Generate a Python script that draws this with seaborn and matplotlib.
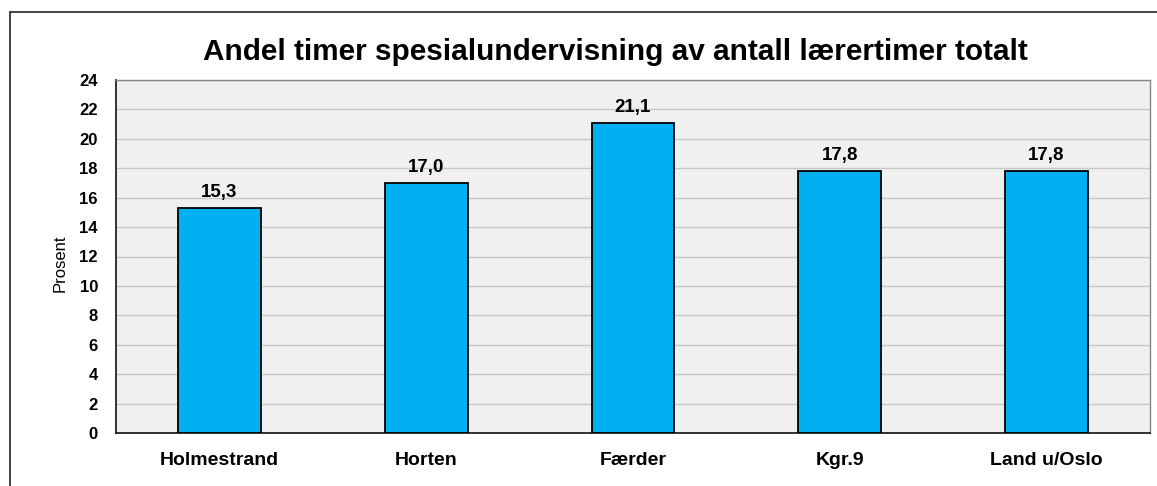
import matplotlib
matplotlib.use("Agg")
import matplotlib.pyplot as plt
from matplotlib.lines import Line2D
from matplotlib.ticker import FixedLocator
import seaborn as sns
import pandas as pd

# Kommuner og andel spesialundervisning (prosent)
kommuner = ["Holmestrand", "Horten", "Færder", "Kgr.9", "Land u/Oslo"]
andel = [15.3, 17.0, 21.1, 17.8, 17.8]
y_ticks = list(range(0, 25, 2))

df = pd.DataFrame({"kommune": kommuner, "andel": andel})

sns.set_theme(style="white")
plt.rcParams["font.family"] = ["Liberation Sans", "DejaVu Sans"]
plt.rcParams["text.color"] = "black"
plt.rcParams["axes.labelcolor"] = "black"
plt.rcParams["xtick.color"] = "black"
plt.rcParams["ytick.color"] = "black"

fig = plt.figure(figsize=(11.57, 4.86), dpi=100)
ax = fig.add_axes([116 / 1157, 1 - 433 / 486, (1150 - 116) / 1157, (433 - 80) / 486])
ax.set_facecolor("#f0f0f0")

sns.barplot(data=df, x="kommune", y="andel", order=kommuner, color="#00b0f0",
            saturation=1, width=0.4, edgecolor="black", linewidth=1.3, ax=ax, zorder=3)

ax.set_ylim(0, 24)
ax.set_xlim(-0.5, len(kommuner) - 0.5)
ax.set_yticks(y_ticks)
ax.yaxis.grid(True, color="#c8c8c8", linewidth=1.0, zorder=0)
ax.set_axisbelow(True)

# Category labels centered, tick marks between categories
ax.set_xticks(range(len(kommuner)))
ax.set_xticklabels(kommuner, fontsize=14, fontweight="bold", color="black")
ax.tick_params(axis="x", which="major", length=0, pad=14)
ax.xaxis.set_minor_locator(FixedLocator([i - 0.5 for i in range(len(kommuner) + 1)]))
ax.tick_params(axis="x", which="minor", length=6, width=1, color="black", direction="out")

ax.tick_params(axis="y", length=7, width=1, color="black", direction="out", pad=6,
               labelsize=12, labelcolor="black")
for lbl in ax.get_yticklabels():
    lbl.set_fontweight("bold")

ax.set_xlabel("")
ax.set_ylabel("Prosent", fontsize=12, color="black", fontweight="medium")
ax.yaxis.set_label_coords(-0.047, 0.48)

for side in ["left", "bottom"]:
    ax.spines[side].set_color("#222222")
    ax.spines[side].set_linewidth(1.3)
for side in ["top", "right"]:
    ax.spines[side].set_color("#888888")
    ax.spines[side].set_linewidth(1.0)

# Value labels above each bar
for i, v in enumerate(andel):
    ax.annotate(f"{v:.1f}".replace(".", ","), (i, v), xytext=(0, 5),
                textcoords="offset points", ha="center", va="bottom",
                fontsize=13.5, fontweight="bold", color="black", zorder=4)

fig.text(615 / 1157, 1 - 52 / 486, "Andel timer spesialundervisning av antall lærertimer totalt",
         ha="center", va="center", fontsize=21.4, fontweight="bold", color="black")

# Chart area frame
x0 = 10 / 1157
y0 = 1 - 12 / 486
fig.add_artist(Line2D([x0, x0], [0, y0], transform=fig.transFigure, color="#222222", linewidth=1.2))
fig.add_artist(Line2D([x0, 1], [y0, y0], transform=fig.transFigure, color="#222222", linewidth=1.2))

fig.savefig("out.png", dpi=100, facecolor="white")
